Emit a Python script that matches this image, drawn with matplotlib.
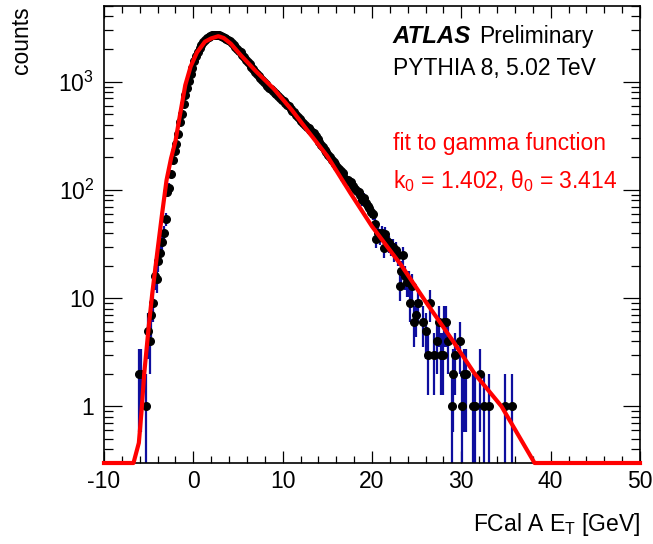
import matplotlib
matplotlib.use('Agg')
import matplotlib.pyplot as plt
import numpy as np
from matplotlib.ticker import MultipleLocator, LogLocator, FixedLocator, FuncFormatter, NullFormatter

plt.rcParams['font.family'] = ['Liberation Sans', 'DejaVu Sans']
plt.rcParams['mathtext.fontset'] = 'custom'
plt.rcParams['mathtext.rm'] = 'Liberation Sans'
plt.rcParams['mathtext.it'] = 'Liberation Sans:italic'
plt.rcParams['mathtext.bf'] = 'Liberation Sans:bold'
plt.rcParams['axes.unicode_minus'] = False

W, H = 653, 544
FS = 16.5

# histogram: 0.2 GeV bins, first bin centre at -6.1 GeV
bin_width = 0.2
first_center = -6.1
counts = np.array([
    2, 2, 0, 0, 1, 5, 4, 7, 9, 16,
    15, 22, 26, 33, 40, 54, 96, 105, 141, 190,
    230, 268, 330, 420, 500, 620, 760, 880, 1010, 1180,
    1350, 1560, 1720, 1880, 2050, 2180, 2320, 2450, 2540, 2600,
    2650, 2680, 2700, 2690, 2710, 2680, 2650, 2600, 2540, 2480,
    2420, 2350, 2260, 2180, 2100, 2020, 1940, 1860, 1760, 1680,
    1600, 1520, 1450, 1380, 1300, 1240, 1180, 1120, 1080, 1040,
    990, 950, 910, 880, 850, 820, 790, 765, 740, 710,
    680, 660, 630, 610, 590, 560, 540, 520, 495, 470,
    450, 430, 415, 400, 385, 370, 360, 345, 335, 315,
    295, 275, 262, 248, 235, 225, 212, 200, 190, 182,
    172, 163, 155, 148, 142, 128, 120, 124, 118, 119,
    108, 102, 98, 95, 90, 80, 85, 76, 71, 68,
    63, 60, 48, 35, 40, 37, 40, 29, 39, 34,
    32, 30, 30, 27, 28, 25, 13, 18, 25, 16,
    14, 14, 9, 13, 6, 7, 9, 0, 0, 6,
    0, 5, 3, 9, 0, 3, 0, 4, 6, 3,
    3, 6, 6, 4, 0, 1, 2, 3, 0, 0,
    4, 1, 2, 2, 0, 0, 0, 1, 1, 0,
    0, 2, 0, 1, 0, 0, 1, 0, 0, 0,
    0, 0, 0, 0, 0, 1, 0, 0, 0, 1,
])

# gamma-function fit curve
fit_x = [-10, -6.7, -6.1, -5.8, -5.5, -5.0, -4.6, -4.0, -3.5, -3.0, -2.5, -2.0,
         -1.5, -0.9, -0.3, 0.4, 1.3, 2.0, 2.8, 3.4, 4.2, 5.3, 7.0, 9.0, 11.0,
         13.0, 15.0, 17.6, 20.0, 23.3, 26.0, 28.9, 31.5, 34.5, 38.2, 50]
fit_y = [0.3, 0.3, 0.46, 0.9, 2.0, 5.4, 11, 28, 60, 123, 195, 282,
         490, 930, 1380, 1860, 2340, 2510, 2630, 2530, 2240, 1760, 1250, 860, 550,
         335, 205, 93, 46, 20, 9.3, 4.2, 2.0, 1.0, 0.3, 0.3]

centers = first_center + bin_width * np.arange(len(counts))
mask = counts > 0
x = centers[mask]
n = counts[mask].astype(float)
err = np.sqrt(n)
err_lo = n - np.maximum(n - err, 0.01)

fig = plt.figure(figsize=(W / 100, H / 100), dpi=100)
ax = fig.add_axes([104 / W, 1 - 463 / H, 536 / W, 457 / H])

ax.errorbar(x, n, yerr=[err_lo, err], fmt='none', ecolor='#0e0e9e',
            elinewidth=1.6, capsize=0, zorder=2)
ax.plot(x, n, 'o', color='black', ms=5.5, zorder=3)
ax.plot(fit_x, fit_y, color='red', lw=3, zorder=4, clip_on=False)

ax.set_yscale('log')
ax.set_xlim(-10, 50)
ax.set_ylim(0.3, 5000)

ax.xaxis.set_major_locator(MultipleLocator(10))
ax.xaxis.set_minor_locator(MultipleLocator(2))
ax.yaxis.set_major_locator(FixedLocator([1, 10, 100, 1000]))
ax.yaxis.set_minor_locator(LogLocator(base=10, subs=np.arange(2, 10)))
ax.yaxis.set_minor_formatter(NullFormatter())


def ylab(v, pos):
    if v >= 100:
        return r'$\mathregular{10^{%d}}$' % round(np.log10(v))
    return '%d' % v


ax.yaxis.set_major_formatter(FuncFormatter(ylab))

ax.tick_params(which='both', direction='in', top=True, right=True,
               labelsize=FS, width=0.9, color='black')
ax.tick_params(axis='x', which='major', length=8.6, pad=5)
ax.tick_params(axis='x', which='minor', length=4.7)
ax.tick_params(axis='y', which='major', length=12.6, pad=7)
ax.tick_params(axis='y', which='minor', length=6.3)
for s in ax.spines.values():
    s.set_linewidth(1.2)

ax.set_xlabel(r'FCal A E$_\mathregular{T}$ [GeV]', fontsize=FS, loc='right')
ax.xaxis.label.set_verticalalignment('baseline')
ax.xaxis.set_label_coords(1.0, -(531 - 463) / 457)
ax.set_ylabel('counts', fontsize=FS, loc='top')
ax.yaxis.set_label_coords(-(104 - 33) / 536, 1.0)


def px(xp, yp):
    return xp / W, 1 - yp / H


fig.text(*px(393, 43), 'ATLAS', fontsize=FS + 0.8, fontweight='bold', fontstyle='italic', va='baseline')
fig.text(*px(479, 43), 'Preliminary', fontsize=FS, va='baseline')
fig.text(*px(393, 75), 'PYTHIA 8, 5.02 TeV', fontsize=FS, va='baseline')
fig.text(*px(393, 150), 'fit to gamma function', fontsize=FS, color='red', va='baseline')
fig.text(*px(393, 188), r'k$_\mathregular{0}$ = 1.402, θ$_\mathregular{0}$ = 3.414',
         fontsize=FS, color='red', va='baseline')

fig.savefig('out.png', dpi=100)
